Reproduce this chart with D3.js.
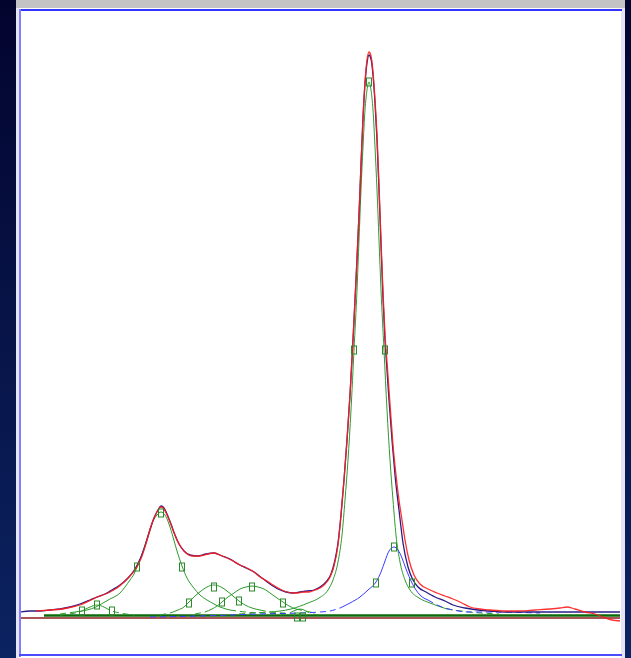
<!DOCTYPE html>
<html>
<head>
<meta charset="utf-8">
<script src="https://cdn.jsdelivr.net/npm/d3@7"></script>
<style>
  html, body { margin: 0; padding: 0; background: #06093a; overflow: hidden; }
  svg { display: block; }
</style>
</head>
<body>
<svg id="chart" width="631" height="658"></svg>
<script>
// Spectrum values as [channel, intensity]

// measured spectrum
const measured = [
  [0,3],[10,4],[20,4],[30,5],[40,6],[50,8],[60,11],[70,15],[77,18],[85,21],[92,25],[100,30],
  [108,37],[115,46],[121,58],[126,72],[130,85],[134,97],[138,105],[141,109],[144,107],[147,101],
  [151,91],[155,80],[159,71],[164,64],[170,60],[178,59],[186,61],[194,62],[202,59],[210,56],
  [218,51],[226,47],[234,43],[242,37],[250,31],[258,26],[266,23],[273,22],[280,23],[287,24],
  [294,25],[300,28],[306,33],[311,41],[315,55],[318,72],[321,100],[324,135],[327,175],[330,220],
  [333,275],[336,335],[339,400],[341,450],[343,497],[345,531],[347,552],[349,560],[351,556],
  [353,540],[355,512],[357,475],[359,425],[361,370],[363,317],[365,275],[367,245],[369,215],
  [372,175],[375,140],[379,105],[383,72],[388,48],[393,35],[398,28],[406,23],[415,18],[425,14],
  [433,10],[445,7],[458,5],[470,4],[485,3],[520,3],[560,3],[600,3]
];

// fitted envelope
const envelope = [
  [16,4],[30,5],[42,6],[52,8],[60,10],[67,13],[73,16],[77,18],[83,20],[90,23],[97,27],[103,32],
  [110,39],[117,48],[122,59],[127,75],[131,89],[135,99],[138,105],[141,108],[144,106],[147,100],
  [150,93],[153,85],[157,75],[161,68],[166,62],[172,59],[180,59],[188,61],[194,62],[200,60],
  [207,57],[213,54],[220,50],[227,47],[234,43],[240,38],[247,34],[253,30],[260,26],[267,23],
  [273,22],[278,22],[283,23],[289,23],[295,25],[300,27],[305,31],[310,38],[314,49],[318,70],
  [321,100],[324,135],[327,175],[330,220],[333,275],[336,335],[339,400],[341,450],[343,497],
  [345,533],[347,555],[349,563],[351,559],[353,543],[355,515],[357,480],[359,430],[361,375],
  [363,323],[365,280],[367,253],[369,225],[371,197],[373,170],[376,140],[379,115],[382,95],
  [385,75],[389,55],[394,40],[400,31],[408,26],[417,22],[425,19],[433,16],[442,12],[450,8],
  [460,6],[470,5],[485,4],[500,4],[515,5],[530,6],[540,7],[547,8],[555,6],[565,3],[575,1],
  [583,-2],[592,-5],[600,-6]
];

// fitted components
const peak1 = [[40,0],[55,2],[62,4],[70,8],[77,10],[84,8],[92,4],[100,2],[115,0]];
const peak2 = [
  [40,1],[55,3],[67,5],[76,8],[83,12],[90,16],[96,19],[100,22],[105,28],[110,35],[114,41],
  [117,48],[121,58],[125,70],[129,83],[133,94],[137,100],[141,103],[145,100],[149,91],[153,78],
  [157,64],[162,49],[167,37],[173,28],[180,20],[187,15],[194,11],[200,8],[210,5],[225,3],
  [245,2],[270,1]
];
const peak3 = [
  [140,0],[150,2],[158,5],[164,8],[169,13],[175,19],[181,24],[187,28],[194,30],[201,28],
  [207,24],[213,19],[219,14],[225,10],[232,7],[240,5],[250,3],[265,2]
];
const peak4 = [
  [175,1],[185,3],[192,6],[197,9],[202,13],[208,18],[214,22],[220,26],[226,28],[232,29],
  [238,28],[244,26],[250,22],[257,17],[263,13],[269,9],[276,6],[285,4],[295,2]
];
const peak5 = [[260,0],[270,2],[276,5],[280,6],[284,5],[290,2],[300,0]];
const peak6 = [
  [219,1],[249,3],[271,6],[288,12],[299,17],[308,25],[313,35],[318,53],[322,80],[325,115],
  [328,155],[331,205],[334,265],[337,325],[339,375],[341,425],[343,468],[345,505],[347,525],
  [349,533],[351,525],[353,505],[355,468],[357,425],[359,375],[361,325],[364,265],[367,205],
  [370,155],[373,115],[376,80],[380,53],[385,35],[390,25],[399,17],[410,12],[427,6],[449,3],
  [479,1]
];
const peak7 = [
  [130,-2],[180,-1],[240,1],[280,2],[300,3],[310,4],[320,7],[330,12],[340,18],[348,25],
  [356,33],[361,43],[365,54],[369,64],[374,68],[378,65],[382,57],[386,46],[392,32],[396,25],
  [400,20],[408,15],[417,10],[425,7],[433,5],[450,3],[467,3],[520,2]
];
const greenPeaks = [peak1, peak2, peak3, peak4, peak5, peak6];

// handle points on the components (centre and half-height positions)
const handles = [
  [62,4],[77,10],[92,4],
  [117,48],[141,102],[162,48],
  [169,12],[194,28],[219,14],
  [202,13],[232,28],[263,12],
  [277,-2],[283,-2],
  [334,265],[349,533],[365,265],
  [356,32],[374,68],[392,32]
];

// baselines
const baseline = [[24,-0.5],[600,-0.5]];
const offsetLine = [[0,-3],[600,-3]];

const W = 631, H = 658;
const svg = d3.select('#chart');
const defs = svg.append('defs');

// slide backdrop
const grad = defs.append('linearGradient').attr('id', 'bg')
  .attr('x1', 0).attr('y1', 0).attr('x2', 0).attr('y2', 1);
grad.append('stop').attr('offset', '0%').attr('stop-color', '#03042e');
grad.append('stop').attr('offset', '100%').attr('stop-color', '#0b2361');
svg.append('rect').attr('width', W).attr('height', H).attr('fill', 'url(#bg)');

// plot window
svg.append('rect').attr('x', 16).attr('y', 0).attr('width', 609).attr('height', 8).attr('fill', '#c3c3c6');
svg.append('rect').attr('x', 16).attr('y', 8).attr('width', 609).attr('height', 650).attr('fill', '#ffffff');
svg.append('rect').attr('x', 16).attr('y', 8).attr('width', 3).attr('height', 650).attr('fill', '#e6e6f2');
svg.append('rect').attr('x', 621).attr('y', 8).attr('width', 4).attr('height', 650).attr('fill', '#e4e4f6');
svg.append('rect').attr('x', 19).attr('y', 9).attr('width', 603).attr('height', 2).attr('fill', '#3434ff');
svg.append('rect').attr('x', 19).attr('y', 9).attr('width', 2).attr('height', 648).attr('fill', '#8080ff');
svg.append('rect').attr('x', 19).attr('y', 654).attr('width', 603).attr('height', 2).attr('fill', '#4b4bff');

defs.append('clipPath').attr('id', 'plotClip')
  .append('rect').attr('x', 21).attr('y', 11).attr('width', 600).attr('height', 643);

const x = d3.scaleLinear().domain([0, 602]).range([20, 622]);
const y = d3.scaleLinear().domain([0, 563]).range([615, 52]);

const line = d3.line().x(d => x(d[0])).y(d => y(d[1])).curve(d3.curveMonotoneX);
const straight = d3.line().x(d => x(d[0])).y(d => y(d[1]));

const plot = svg.append('g').attr('clip-path', 'url(#plotClip)');

// split a curve into runs above / below a level so low tails can be dashed
function runs(data, level) {
  const out = [];
  let cur = null;
  data.forEach((p, i) => {
    const hi = p[1] >= level;
    if (!cur || cur.hi !== hi) {
      cur = { hi, pts: cur ? [data[i - 1], p] : [p] };
      out.push(cur);
    } else {
      cur.pts.push(p);
    }
  });
  return out;
}

function drawCurve(data, level, color, width) {
  runs(data, level).forEach(r => {
    plot.append('path')
      .attr('d', line(r.pts))
      .attr('fill', 'none')
      .attr('stroke', color)
      .attr('stroke-width', width)
      .attr('stroke-dasharray', r.hi ? null : '6,4');
  });
}

// baselines
plot.append('path').attr('d', straight(offsetLine)).attr('fill', 'none')
  .attr('stroke', '#8c1c1c').attr('stroke-width', 1.5);
plot.append('path').attr('d', straight(baseline)).attr('fill', 'none')
  .attr('stroke', '#0b6a0b').attr('stroke-width', 2.6);

// green components
greenPeaks.forEach(p => drawCurve(p, 5, '#2e9a2e', 1));

// blue component
drawCurve(peak7, 12, '#3c3cff', 1);

// measured spectrum and fit envelope
plot.append('path').attr('d', line(measured)).attr('fill', 'none')
  .attr('stroke', '#2a1c86').attr('stroke-width', 1.3);
plot.append('path').attr('d', line(envelope)).attr('fill', 'none')
  .attr('stroke', '#ff1c1c').attr('stroke-width', 1.3).attr('stroke-opacity', 0.9);

// handles
plot.selectAll('rect.handle').data(handles).join('rect')
  .attr('class', 'handle')
  .attr('x', d => x(d[0]) - 2.5)
  .attr('y', d => y(d[1]) - 4)
  .attr('width', 5)
  .attr('height', 8)
  .attr('fill', 'none')
  .attr('stroke', '#2a8a2a')
  .attr('stroke-width', 1);
</script>
</body>
</html>
